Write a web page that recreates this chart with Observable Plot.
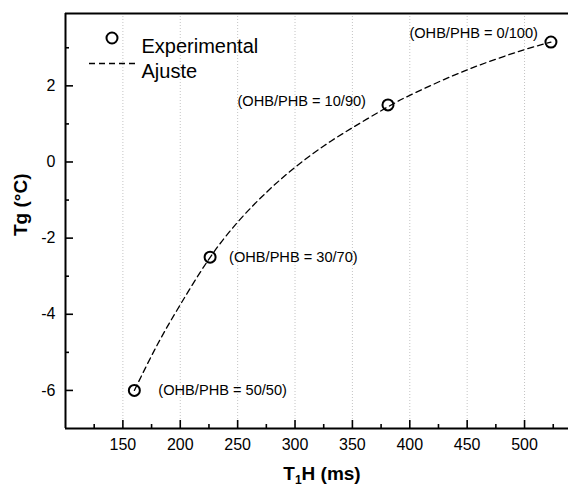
<!DOCTYPE html>
<html>
<head>
<meta charset="utf-8">
<script src="https://cdn.jsdelivr.net/npm/d3@7"></script>
<script src="https://cdn.jsdelivr.net/npm/@observablehq/plot@0.6"></script>
<style>
  body { margin: 0; background: #fff; }
  svg { display: block; }
</style>
</head>
<body>
<div id="chart"></div>
<script>
// ---- data ----
const t1h = [160, 226, 381, 523];
const tg = [-6.0, -2.5, 1.5, 3.15];
const blendLabels = ["(OHB/PHB = 50/50)", "(OHB/PHB = 30/70)", "(OHB/PHB = 10/90)", "(OHB/PHB = 0/100)"];

const fitT1h = [160, 180, 200, 225, 250, 275, 300, 325, 350, 381, 400, 425, 450, 475, 500, 523];
const fitTg = [-6.0, -4.8, -3.75, -2.55, -1.58, -0.8, -0.14, 0.42, 0.9, 1.45, 1.75, 2.1, 2.42, 2.7, 2.95, 3.15];

const xMajorTicks = [150, 200, 250, 300, 350, 400, 450, 500];
const xMinorTicks = [125, 175, 225, 275, 325, 375, 425, 475, 525];
const yMajorTicks = [-6, -4, -2, 0, 2];
const yMinorTicks = [-5, -3, -1, 1, 3];
const xDomain = [100, 538.3];
const yDomain = [-7, 3.9];

const legendNames = ["Experimental", "Ajuste"];
const yTitle = ["Tg (°C)"];

// ---- build ----
const points = t1h.map((x, i) => ({x, y: tg[i], label: blendLabels[i]}));
const fit = fitT1h.map((x, i) => ({x, y: fitTg[i]}));
const labelStyles = [
  {dx: 24, dy: 0, textAnchor: "start"},
  {dx: 19, dy: 0, textAnchor: "start"},
  {dx: -22, dy: -4, textAnchor: "end"},
  {dx: -13, dy: -9, textAnchor: "end"}
];

const FONT = "'Liberation Sans', Arial, Helvetica, sans-serif";
const W = 568, H = 487, ML = 65, MR = 0, MT = 13, MB = 59;

const chart = Plot.plot({
  width: W, height: H,
  marginLeft: ML, marginRight: MR, marginTop: MT, marginBottom: MB,
  style: {fontFamily: FONT, fontSize: "16px", background: "#fff", color: "#000", overflow: "visible"},
  x: {domain: xDomain, axis: null},
  y: {domain: yDomain, axis: null},
  marks: [
    Plot.ruleX(xMajorTicks, {stroke: "#c4c4c4", strokeDasharray: "1,2", strokeWidth: 1}),
    // ticks (inward)
    Plot.axisX({ticks: xMajorTicks, tickSize: -8, tickFormat: () => "", strokeWidth: 1.6, label: null}),
    Plot.axisX({ticks: xMinorTicks, tickSize: -4, tickFormat: () => "", strokeWidth: 1.6, label: null}),
    Plot.axisX({ticks: xMajorTicks, tickSize: 0, tickPadding: 10, fontSize: 16, tickFormat: d => String(d), label: null}),
    Plot.axisY({ticks: yMajorTicks, tickSize: -8, tickFormat: () => "", strokeWidth: 1.6, label: null}),
    Plot.axisY({ticks: yMinorTicks, tickSize: -4, tickFormat: () => "", strokeWidth: 1.6, label: null}),
    Plot.axisY({ticks: yMajorTicks, tickSize: 0, tickPadding: 10, fontSize: 16, tickFormat: d => String(d), label: null}),
    // frame lines
    Plot.ruleY([yDomain[0]], {stroke: "#000", strokeWidth: 2}),
    Plot.ruleY([yDomain[1]], {stroke: "#000", strokeWidth: 2}),
    Plot.ruleX([xDomain[0]], {stroke: "#000", strokeWidth: 2}),
    // fit and data
    Plot.line(fit, {x: "x", y: "y", curve: "natural", stroke: "#000", strokeWidth: 1.3, strokeDasharray: "6,4"}),
    Plot.dot(points, {x: "x", y: "y", r: 5.5, stroke: "#000", strokeWidth: 2, fill: "none"}),
    ...points.map((p, i) => Plot.text([p], {
      x: "x", y: "y", text: "label", fontSize: 14.6, fill: "#000", ...labelStyles[i]
    })),
    // legend texts
    Plot.text([legendNames[0]], {frameAnchor: "top-left", dx: 76, dy: 25, text: d => d, textAnchor: "start", fontSize: 20, fill: "#000"}),
    Plot.text([legendNames[1]], {frameAnchor: "top-left", dx: 76, dy: 50, text: d => d, textAnchor: "start", fontSize: 20, fill: "#000"}),
    // y title
    Plot.text(yTitle, {frameAnchor: "left", dx: -45, dy: 15, rotate: -90, text: d => d, fontSize: 19, fontWeight: "bold", fill: "#000"})
  ]
});

document.getElementById("chart").appendChild(chart);

// legend symbols and x-axis title (with subscript)
const svg = d3.select(chart);
svg.append("circle")
  .attr("cx", ML + 47).attr("cy", MT + 25).attr("r", 5.5)
  .attr("fill", "none").attr("stroke", "#000").attr("stroke-width", 2);
svg.append("line")
  .attr("x1", ML + 24).attr("x2", ML + 70)
  .attr("y1", MT + 50.5).attr("y2", MT + 50.5)
  .attr("stroke", "#000").attr("stroke-width", 1.3).attr("stroke-dasharray", "6,4");

const xt = svg.append("text")
  .attr("x", 322).attr("y", 480)
  .attr("text-anchor", "middle")
  .attr("font-family", FONT).attr("font-weight", "bold").attr("font-size", 19)
  .attr("fill", "#000");
xt.append("tspan").text("T");
xt.append("tspan").attr("font-size", 12).attr("dy", 4).text("1");
xt.append("tspan").attr("dy", -4).text("H (ms)");
</script>
</body>
</html>
